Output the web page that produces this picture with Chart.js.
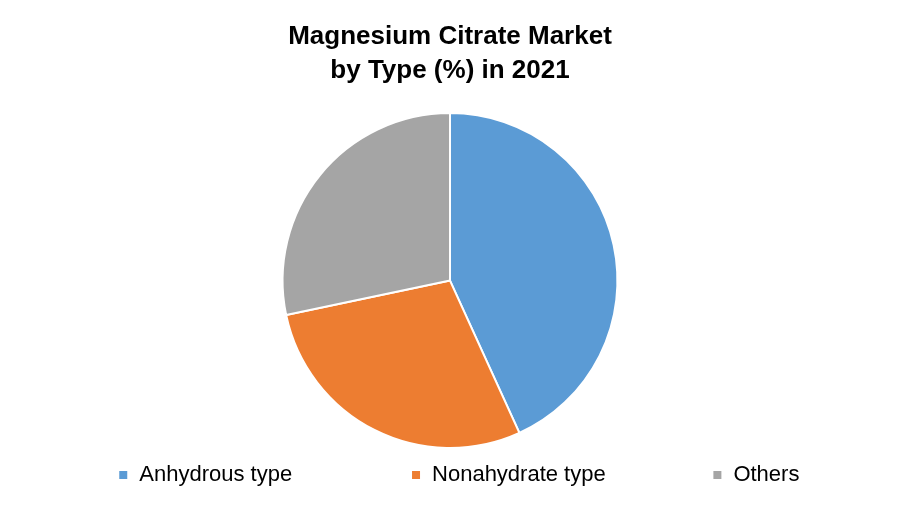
<!DOCTYPE html>
<html>
<head>
<meta charset="utf-8">
<script src="https://cdn.jsdelivr.net/npm/chart.js@4"></script>
<style>
  html, body { margin: 0; padding: 0; background: #fff; }
  #wrap { width: 900px; height: 525px; }
</style>
</head>
<body>
<div id="wrap"><canvas id="chart1"></canvas></div>
<script>
// Chart data
const categories = ['Anhydrous type', 'Nonahydrate type', 'Others'];
const shares = [43.2, 28.5, 28.3];
const colors = ['#5b9bd5', '#ed7d31', '#a5a5a5'];
// trailing spaces widen the gap after each legend entry
const legendGaps = [17, 15, 3];

// Legend labels: default pie labels, with spacing tweaks
function buildLegendLabels(chart) {
  const items = Chart.overrides.pie.plugins.legend.labels.generateLabels(chart);
  items.forEach((item, i) => {
    item.text = item.text + ' '.repeat(legendGaps[i]);
  });
  // empty leading entry to nudge the row to the right
  items.unshift({
    text: '',
    fillStyle: 'rgba(0,0,0,0)',
    strokeStyle: 'rgba(0,0,0,0)',
    lineWidth: 0,
    hidden: false,
    index: -1,
  });
  return items;
}

// Chart configuration
const chartConfig1 = {
  type: 'pie',
  data: {
    labels: categories,
    datasets: [
      {
        data: shares,
        backgroundColor: colors,
        borderColor: '#ffffff',
        borderWidth: 2,
      },
    ],
  },
  options: {
    responsive: true,
    maintainAspectRatio: false,
    animation: false,
    layout: {
      padding: { top: 0, bottom: 29, left: 0, right: 0 },
    },
    plugins: {
      title: {
        display: true,
        text: ['Magnesium Citrate Market', 'by Type (%) in 2021'],
        color: '#000000',
        font: { family: 'Liberation Sans', size: 26, weight: 'bold', lineHeight: 1.31 },
        padding: { top: 20, bottom: 24 },
      },
      legend: {
        position: 'bottom',
        labels: {
          color: '#000000',
          font: { family: 'Liberation Sans', size: 22 },
          boxWidth: 10,
          boxHeight: 10,
          padding: 15,
          generateLabels: buildLegendLabels,
        },
      },
      tooltip: { enabled: false },
    },
  },
};

// Create the chart
const ctx1 = document.getElementById('chart1').getContext('2d');
new Chart(ctx1, chartConfig1);
</script>
</body>
</html>
